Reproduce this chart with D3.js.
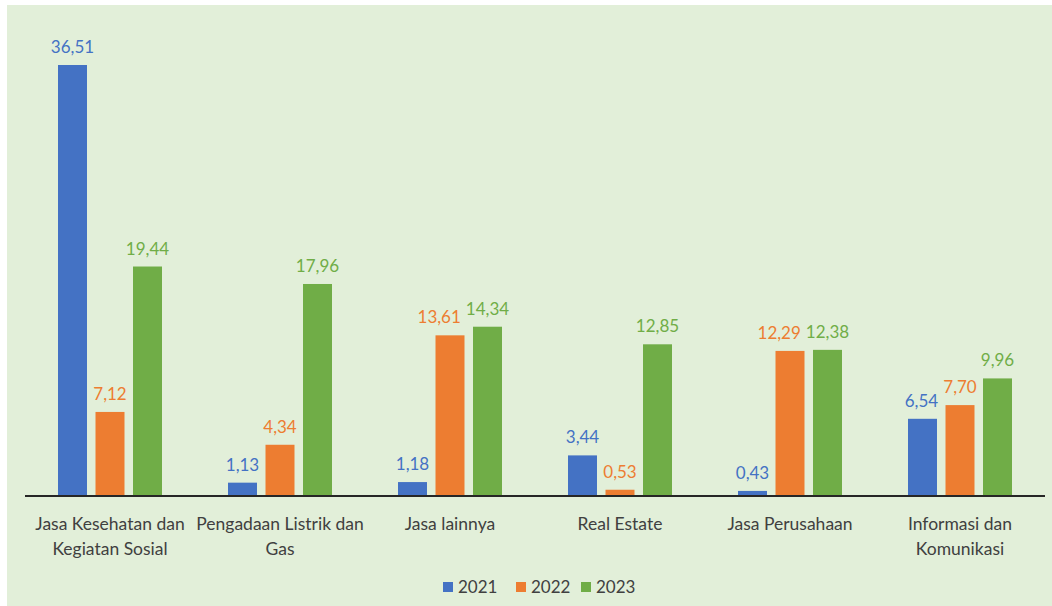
<!doctype html>
<html>
<head>
<meta charset="UTF-8">
<title>Chart</title>
<script src="https://cdn.jsdelivr.net/npm/d3@7"></script>
<style>
  body { margin: 0; background: #ffffff; }
  svg { display: block; font-family: "Lato", "Open Sans", sans-serif; }
</style>
</head>
<body>
<div id="chart"></div>
<script>
const categories = [
  ["Jasa Kesehatan dan", "Kegiatan Sosial"],
  ["Pengadaan Listrik dan", "Gas"],
  ["Jasa lainnya"],
  ["Real Estate"],
  ["Jasa Perusahaan"],
  ["Informasi dan", "Komunikasi"]
];
const years = ["2021", "2022", "2023"];
const v2021 = [36.51, 1.13, 1.18, 3.44, 0.43, 6.54];
const v2022 = [7.12, 4.34, 13.61, 0.53, 12.29, 7.70];
const v2023 = [19.44, 17.96, 14.34, 12.85, 12.38, 9.96];
const colors = ["#4472c4", "#ed7d31", "#70ad47"];

const W = 1052, H = 606;
const svg = d3.select("#chart").append("svg").attr("width", W).attr("height", H);

// panel background
svg.append("rect").attr("x", 7).attr("y", 5).attr("width", W - 7).attr("height", H - 5)
  .attr("fill", "#e2efd9");

const left = 25, right = 1045, base = 496;
const x0 = d3.scaleBand().domain(d3.range(categories.length)).range([left, right]).padding(0);
const x1 = d3.scaleBand().domain(years).range([0, x0.bandwidth()]).paddingInner(0.227).paddingOuter(0.88);
const y = d3.scaleLinear().domain([0, 36.51]).range([base, 65]);

const series = [v2021, v2022, v2023];
const fmt = v => v.toFixed(2).replace(".", ",");

categories.forEach((cat, i) => {
  const g = svg.append("g").attr("transform", `translate(${x0(i)},0)`);
  const labels = [];
  years.forEach((yr, s) => {
    const v = series[s][i];
    g.append("rect")
      .attr("x", x1(yr)).attr("y", y(v))
      .attr("width", x1.bandwidth()).attr("height", base - y(v))
      .attr("fill", colors[s]);
    labels.push(g.append("text")
      .attr("x", x1(yr) + x1.bandwidth() / 2).attr("y", y(v) - 12)
      .attr("text-anchor", "middle").attr("font-size", 17)
      .attr("fill", colors[s]).text(fmt(v)));
  });
  // nudge a label left when it would collide with its right-hand neighbour
  for (let s = labels.length - 2; s >= 0; s--) {
    const a = labels[s].node().getBBox(), b = labels[s + 1].node().getBBox();
    const vOverlap = a.y < b.y + b.height && b.y < a.y + a.height;
    const over = a.x + a.width + 5 - b.x;
    if (vOverlap && over > 0) labels[s].attr("x", +labels[s].attr("x") - over);
  }
});

// axis line
svg.append("line").attr("x1", left).attr("x2", right).attr("y1", base).attr("y2", base)
  .attr("stroke", "#262626").attr("stroke-width", 2);

// category labels
categories.forEach((lines, i) => {
  const t = svg.append("text").attr("text-anchor", "middle").attr("font-size", 17.5)
    .attr("fill", "#404040");
  lines.forEach((ln, k) => {
    t.append("tspan").attr("x", x0(i) + x0.bandwidth() / 2)
      .attr("y", 530 + k * 25).text(ln);
  });
});

// legend
const legend = svg.append("g");
const lx = [443, 516, 581];
years.forEach((yr, s) => {
  legend.append("rect").attr("x", lx[s]).attr("y", 582).attr("width", 10).attr("height", 10)
    .attr("fill", colors[s]);
  legend.append("text").attr("x", lx[s] + 15).attr("y", 593).attr("font-size", 17)
    .attr("fill", "#404040").text(yr);
});
</script>
</body>
</html>
